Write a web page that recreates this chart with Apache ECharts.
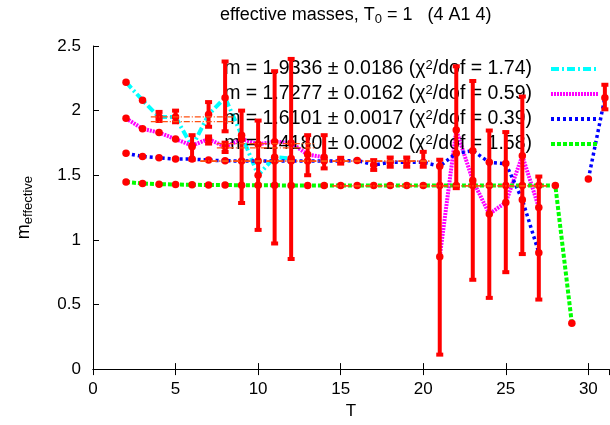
<!DOCTYPE html>
<html>
<head>
<meta charset="utf-8">
<script src="https://cdn.jsdelivr.net/npm/echarts@6/dist/echarts.min.js"></script>
<style>
  html, body { margin: 0; background: #fff; }
  #main { width: 610px; height: 425px; }
</style>
</head>
<body>
<div id="main"></div>
<script>
// time slices
var tValues = [2, 3, 4, 5, 6, 7, 8, 9, 10, 11, 12, 13, 14, 15, 16, 17, 18, 19, 20, 21, 22, 23, 24, 25, 26, 27, 28, 29, 30, 31];

// effective masses of the four states (null = no point)
var mState1 = [2.22, 2.08, 1.95, 1.95, 1.72, 1.97, 2.10, 1.81, 1.50, 1.64, 1.63, null, null, null, null, null, null, null, null, null, null, null, null, null, null, null, null, null, null, null];
var mState2 = [1.94, 1.86, 1.83, 1.78, 1.73, 1.78, 1.72, 1.78, 1.74, 1.76, 1.75, 1.66, 1.64, null, null, null, null, null, null, 0.87, 1.85, 1.46, 1.20, 1.29, 1.65, 1.25, null, null, null, null];
var mState3 = [1.67, 1.645, 1.635, 1.625, 1.625, 1.617, 1.612, 1.61, 1.61, 1.61, 1.61, 1.61, 1.61, 1.61, 1.615, 1.58, 1.60, 1.60, 1.60, 1.57, 1.67, 1.69, 1.60, 1.59, 1.31, 0.90, null, null, 1.47, 2.10];
var mState4 = [1.448, 1.436, 1.431, 1.428, 1.426, 1.425, 1.424, 1.423, 1.422, 1.422, 1.421, 1.421, 1.42, 1.42, 1.42, 1.42, 1.42, 1.42, 1.42, 1.42, 1.42, 1.42, 1.42, 1.42, 1.42, 1.42, 1.42, 0.354, null, null];

// error bars: slice, lower end, upper end
var barT = [4, 5, 6, 7, 7, 8, 8, 9, 10, 11, 12, 13, 14, 15, 17, 18, 19, 20, 21, 22, 23, 24, 25, 26, 27, 31];
var barLow = [1.92, 1.91, 1.62, 1.875, 1.745, 1.84, 1.68, 1.285, 1.077, 0.972, 0.852, 1.50, 1.553, 1.59, 1.541, 1.566, 1.566, 1.566, 0.112, 1.40, 0.691, 0.551, 0.75, 0.89, 0.538, 2.01];
var barHigh = [1.99, 2.0, 1.81, 2.066, 1.80, 2.38, 1.752, 2.0, 1.923, 2.305, 2.40, 1.81, 1.81, 1.635, 1.617, 1.637, 1.637, 1.681, 1.62, 2.343, 2.229, 1.846, 1.834, 2.109, 1.49, 2.20];

// fits
var fitMass = [1.9336, 1.7277, 1.6101, 1.4180];
var fitErr = [0.0186, 0.0162, 0.0017, 0.0002];
var fitFrom = [3.5, 7.5, 6.5, 14.5];
var fitTo = [8.5, 13.5, 20.5, 27.5];
var fitChi = ['1.74', '0.59', '0.39', '1.58'];

var FONT = 'Liberation Sans, Arial, sans-serif';

function fitName(i) {
    return 'm = ' + fitMass[i].toFixed(4) + ' \u00b1 ' + fitErr[i].toFixed(4) + ' (\u03c72/dof = ' + fitChi[i] + ')';
}

function pairs(values) {
    var out = [];
    for (var i = 0; i < tValues.length; i++) {
        out.push([tValues[i], values[i] === null ? '-' : values[i]]);
    }
    return out;
}

var dots = [];
[mState1, mState2, mState3, mState4].forEach(function (arr) {
    for (var i = 0; i < tValues.length; i++) {
        if (arr[i] !== null) dots.push([tValues[i], arr[i]]);
    }
});

var bars = [];
for (var i = 0; i < barT.length; i++) bars.push([barT[i], barLow[i], barHigh[i]]);

var fits = [];
for (var i = 0; i < fitMass.length; i++) fits.push([fitFrom[i], fitTo[i], fitMass[i], fitErr[i]]);

function renderBar(params, api) {
    var lo = api.coord([api.value(0), api.value(1)]);
    var hi = api.coord([api.value(0), api.value(2)]);
    var red = '#ff0000';
    return {
        type: 'group',
        children: [
            { type: 'line', shape: { x1: lo[0], y1: lo[1], x2: hi[0], y2: hi[1] }, style: { stroke: red, lineWidth: 4 } },
            { type: 'rect', shape: { x: lo[0] - 3.5, y: lo[1] - 2, width: 7, height: 4 }, style: { fill: red } },
            { type: 'rect', shape: { x: hi[0] - 3.5, y: hi[1] - 2, width: 7, height: 4 }, style: { fill: red } }
        ]
    };
}

function renderFit(params, api) {
    var m = api.value(2), e = api.value(3);
    var a1 = api.coord([api.value(0), m + e]), b1 = api.coord([api.value(1), m + e]);
    var a2 = api.coord([api.value(0), m - e]), b2 = api.coord([api.value(1), m - e]);
    var st = { stroke: '#ff5010', lineWidth: 1.3, lineDash: [6, 2, 1, 2] };
    return {
        type: 'group',
        children: [
            { type: 'line', shape: { x1: a1[0], y1: a1[1], x2: b1[0], y2: b1[1] }, style: st },
            { type: 'line', shape: { x1: a2[0], y1: a2[1], x2: b2[0], y2: b2[1] }, style: st }
        ]
    };
}

var myChart = echarts.init(document.getElementById('main'));

var stateColors = ['#00ffff', '#ff00ff', '#0000ff', '#00ff00'];
var stateDash = [[8, 3, 2, 3], [2, 1], [3, 3], [4, 2]];
var stateWidth = [4, 4, 3.5, 4];
var stateData = [mState1, mState2, mState3, mState4];

var series = [];
for (var k = 0; k < 4; k++) {
    series.push({
        name: fitName(k),
        type: 'line',
        data: pairs(stateData[k]),
        symbol: 'none',
        connectNulls: false,
        z: 2,
        lineStyle: { color: stateColors[k], width: stateWidth[k], type: stateDash[k] },
        itemStyle: { color: stateColors[k] }
    });
}
series.push({
    type: 'custom',
    renderItem: renderBar,
    data: bars,
    encode: { x: 0, y: [1, 2] },
    z: 6
});
series.push({
    type: 'scatter',
    data: dots,
    symbol: 'circle',
    symbolSize: 7.5,
    itemStyle: { color: '#ff0000', opacity: 1 },
    z: 7
});
series.push({
    type: 'custom',
    renderItem: renderFit,
    data: fits,
    encode: { x: [0, 1], y: 2 },
    z: 8
});

var option = {
    animation: false,
    backgroundColor: '#fff',
    textStyle: { fontFamily: FONT },
    title: {
        text: 'effective masses, T{sub|0} = 1   (4 A1 4)',
        left: 220,
        top: 4,
        padding: 0,
        textStyle: {
            fontFamily: FONT, fontSize: 18, fontWeight: 'normal', color: '#000', lineHeight: 22,
            rich: { sub: { fontFamily: FONT, fontSize: 13, color: '#000', verticalAlign: 'bottom', lineHeight: 13 } }
        }
    },
    legend: {
        orient: 'vertical',
        align: 'right',
        right: 9,
        top: 59,
        padding: 0,
        itemWidth: 48,
        itemHeight: 14,
        itemGap: 5,
        data: [fitName(0), fitName(1), fitName(2), fitName(3)],
        itemStyle: { opacity: 0 },
        lineStyle: { width: 4 },
        formatter: function (name) {
            return name.replace('\u03c72', '\u03c7{s|2}') + '{g|}';
        },
        textStyle: {
            fontFamily: FONT, fontSize: 19.5, color: '#000', lineHeight: 20,
            rich: {
                s: { fontFamily: FONT, fontSize: 13, color: '#000', verticalAlign: 'top', lineHeight: 13 },
                g: { width: 14 }
            }
        }
    },
    grid: { left: 93, right: 1, top: 46, bottom: 52 },
    xAxis: [{
        type: 'value',
        min: 0,
        max: 31.25,
        interval: 5,
        name: 'T',
        nameLocation: 'middle',
        nameGap: 30,
        nameTextStyle: { fontFamily: FONT, fontSize: 17, color: '#000' },
        axisLine: { onZero: false, lineStyle: { color: '#000', width: 1 } },
        axisTick: { inside: true, length: 6, lineStyle: { color: '#000' } },
        axisLabel: { fontFamily: FONT, fontSize: 17, color: '#000', margin: 12 },
        splitLine: { show: false }
    }, {
        type: 'value',
        position: 'top',
        min: 0,
        max: 31.25,
        interval: 5,
        axisLine: { show: true, lineStyle: { color: '#000', width: 1 } },
        axisTick: { inside: true, length: 6, lineStyle: { color: '#000' } },
        axisLabel: { show: false },
        splitLine: { show: false }
    }],
    yAxis: {
        type: 'value',
        min: 0,
        max: 2.5,
        interval: 0.5,
        name: 'm{e|effective}',
        nameLocation: 'middle',
        nameGap: 58,
        nameTextStyle: {
            fontFamily: FONT, fontSize: 18, color: '#000',
            rich: { e: { fontFamily: FONT, fontSize: 13, color: '#000', padding: [8, 0, 0, 0] } }
        },
        axisLine: { show: true, lineStyle: { color: '#000', width: 1 } },
        axisTick: { inside: true, length: 6, lineStyle: { color: '#000' } },
        axisLabel: { fontFamily: FONT, fontSize: 17, color: '#000', margin: 12 },
        splitLine: { show: false }
    },
    series: series
};

myChart.setOption(option);
</script>
</body>
</html>
